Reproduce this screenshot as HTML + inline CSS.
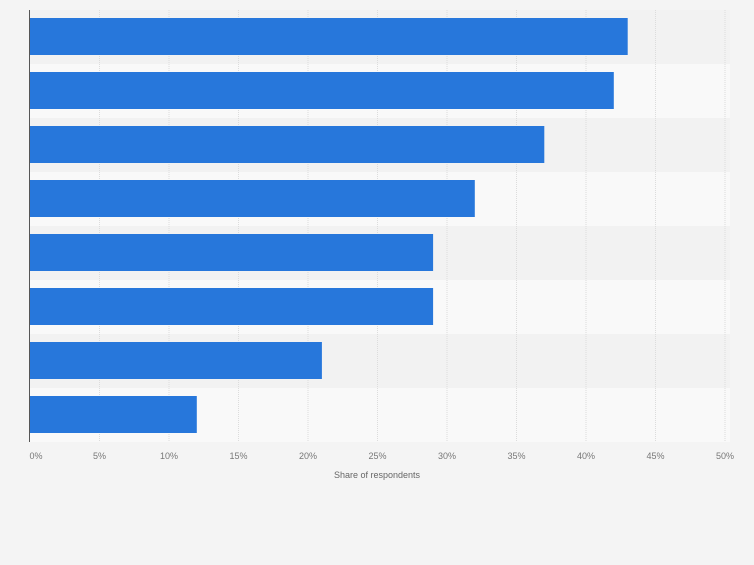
<!DOCTYPE html>
<html><head><meta charset="utf-8"><style>
body{margin:0;background:#f4f4f4;font-family:"Liberation Sans",sans-serif;}
svg text{font-family:"Liberation Sans",sans-serif;}
</style></head><body>
<svg width="754" height="560" id="c">
<rect width="754" height="560" fill="#f4f4f4"/>
</svg>
<script>
const categories=["Item 1","Item 2","Item 3","Item 4","Item 5","Item 6","Item 7","Item 8"];
const values=[43,42,37,32,29,29,21,12];
const ticks=[0,5,10,15,20,25,30,35,40,45,50];
const tickLabels=["0%","5%","10%","15%","20%","25%","30%","35%","40%","45%","50%"];
const svg=document.getElementById('c');
const NS="http://www.w3.org/2000/svg";
const x0=30,x1=725,plotTop=10,band=54;
const xs=v=>x0+(x1-x0)*v/50;
function el(t,a,p){const e=document.createElementNS(NS,t);for(const k in a)e.setAttribute(k,a[k]);(p||svg).appendChild(e);return e;}
categories.forEach((c,i)=>{
  const r=el('rect',{x:x0,y:plotTop+i*band,width:x1-x0+5,height:band,fill:i%2?'#f9f9f9':'#f2f2f2'});
  
  
});
ticks.forEach((t,i)=>{
  if(i>0){const g=el('line',{x1:xs(t),x2:xs(t),y1:plotTop,y2:plotTop+band*categories.length,stroke:'#dcdcdc','stroke-dasharray':'1,1'});
  
  }
  const tx=el('text',{x:xs(t)+(i==0?6:0),y:459,'font-size':9,fill:'#777','text-anchor':'middle'});
  tx.textContent=tickLabels[i];
  
  
});
values.forEach((v,i)=>{
  const b=el('rect',{x:x0,y:plotTop+i*band+8,width:xs(v)-x0,height:37,fill:'#2777db'});
  
  
});
const ax=el('line',{x1:29.5,x2:29.5,y1:plotTop,y2:plotTop+band*categories.length,stroke:'#555','stroke-width':1});


const t=el('text',{x:377,y:478,'font-size':9,fill:'#666','text-anchor':'middle'});
t.textContent='Share of respondents';


</script>
</body></html>
